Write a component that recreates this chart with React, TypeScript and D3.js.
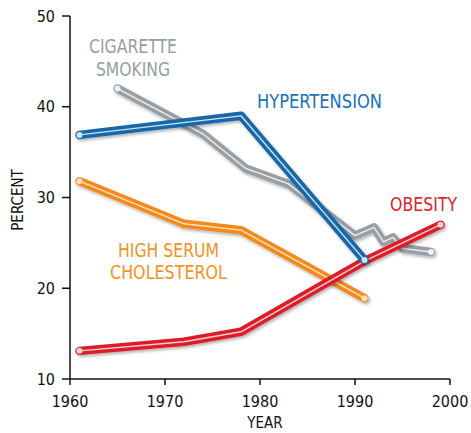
import React from 'react';
import * as d3 from 'd3';

const smokingYears = [1965, 1974, 1978.5, 1983, 1990, 1992, 1993, 1994, 1995, 1998];
const smokingValues = [42, 37, 33.2, 31.5, 25.8, 26.7, 25.1, 25.6, 24.4, 24.0];
const hyperYears = [1961, 1978, 1991];
const hyperValues = [36.9, 39.0, 23.1];
const cholYears = [1961, 1972, 1978, 1991];
const cholValues = [31.8, 27.1, 26.4, 18.9];
const obesityYears = [1961, 1972, 1978, 1991, 1999];
const obesityValues = [13.1, 14.1, 15.2, 23.0, 27.0];

const xTicks = [1960, 1970, 1980, 1990, 2000];
const yTicks = [10, 20, 30, 40, 50];

const font = "'DejaVu Sans Condensed', 'Liberation Sans Narrow', sans-serif";

const series = [
  { name: 'smoking', years: smokingYears, values: smokingValues, color: '#979fa5', inner: '#eef0f1' },
  { name: 'cholesterol', years: cholYears, values: cholValues, color: '#f58a1f', inner: '#fde3c6' },
  { name: 'obesity', years: obesityYears, values: obesityValues, color: '#dc1f2a', inner: '#f9d2cc' },
  { name: 'hypertension', years: hyperYears, values: hyperValues, color: '#1667a8', inner: '#cfe2f2' },
];

const labels = [
  { lines: ['CIGARETTE', 'SMOKING'], x: [89, 96], y: [53, 76], w: [88, 74], color: '#959ea5' },
  { lines: ['HYPERTENSION'], x: [257], y: [108], w: [125], color: '#1a72b8' },
  { lines: ['OBESITY'], x: [390], y: [211], w: [67], color: '#e0232d' },
  { lines: ['HIGH SERUM', 'CHOLESTEROL'], x: [118, 110], y: [257, 279], w: [101, 117], color: '#f7901e' },
];

export default function App() {
  const x = d3.scaleLinear().domain([1960, 2000]).range([70, 450]);
  const y = d3.scaleLinear().domain([10, 50]).range([379, 16]);
  const line = d3.line<[number, number]>().x(d => x(d[0])).y(d => y(d[1]));

  return (
    <svg width={471} height={433} style={{ position: 'absolute', left: 0, top: 0, background: '#fff' }}>
      <defs>
        <filter id="shadow" x="-10%" y="-10%" width="120%" height="130%">
          <feDropShadow dx="1.5" dy="2" stdDeviation="1.5" floodColor="#000" floodOpacity="0.3" />
        </filter>
      </defs>

      {/* axes */}
      <g stroke="#111" strokeWidth={1.5}>
        <line x1={70} x2={70} y1={y(50)} y2={y(10)} />
        <line x1={70} x2={x(2000)} y1={y(10)} y2={y(10)} />
        {yTicks.map(t => <line key={t} x1={62} x2={70} y1={y(t)} y2={y(t)} />)}
        {xTicks.map(t => <line key={t} x1={x(t)} x2={x(t)} y1={y(10)} y2={y(10) + 6} />)}
      </g>
      <g fontFamily={font} fontSize={16} fill="#111" fontWeight={500}>
        {yTicks.map(t => (
          <text key={t} x={55} y={y(t)} dy="0.35em" textAnchor="end">{t}</text>
        ))}
        {xTicks.map(t => (
          <text key={t} x={x(t)} y={407} textAnchor="middle">{t}</text>
        ))}
        <text x={265} y={428} textAnchor="middle" fontSize={15}>YEAR</text>
        <text transform="translate(23,200) rotate(-90)" textAnchor="middle" fontSize={15}>PERCENT</text>
      </g>

      {/* series */}
      {series.map(s => {
        const pts = s.years.map((yr, i) => [yr, s.values[i]] as [number, number]);
        const first = pts[0];
        const last = pts[pts.length - 1];
        return (
          <g key={s.name}>
            <path d={line(pts) || ''} fill="none" stroke={s.color} strokeWidth={8.5}
              strokeLinejoin="round" strokeLinecap="round" filter="url(#shadow)" />
            <path d={line(pts) || ''} fill="none" stroke={s.inner} strokeWidth={1.4}
              strokeLinejoin="round" strokeLinecap="round" />
            {[first, last].map((p, i) => (
              <circle key={i} cx={x(p[0])} cy={y(p[1])} r={3} fill={s.inner} />
            ))}
          </g>
        );
      })}

      {/* labels */}
      <g fontFamily={font} fontSize={19}>
        {labels.map((l, i) => l.lines.map((t, j) => (
          <text key={i + '-' + j} x={l.x[j]} y={l.y[j]} fill={l.color}
            textLength={l.w[j]} lengthAdjust="spacingAndGlyphs">{t}</text>
        )))}
      </g>
    </svg>
  );
}
